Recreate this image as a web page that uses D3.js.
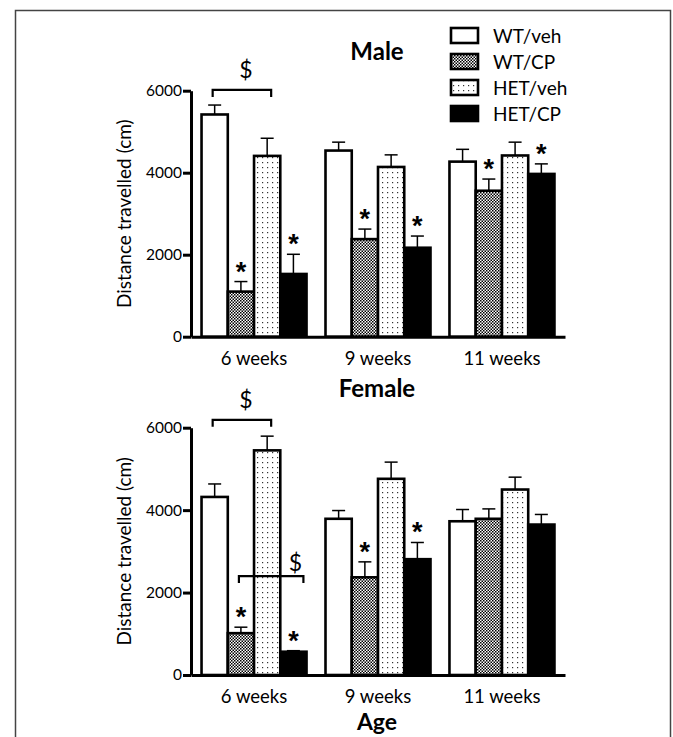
<!DOCTYPE html>
<html>
<head>
<meta charset="utf-8">
<script src="https://cdn.jsdelivr.net/npm/d3@7"></script>
<style>
body{margin:0;background:#fff}
text{font-family:Lato,"Open Sans",sans-serif;fill:#000}
</style>
</head>
<body>
<svg id="fig" width="673" height="737"></svg>
<script>
const groups = ["6 weeks", "9 weeks", "11 weeks"];
const series = ["WT/veh", "WT/CP", "HET/veh", "HET/CP"];
const yTicks = [0, 2000, 4000, 6000];

// rows follow series, columns follow groups
const maleMean = [[5420, 4540, 4270], [1100, 2380, 3560], [4410, 4140, 4420], [1530, 2170, 3970]];
const maleSem = [[230, 205, 300], [245, 245, 285], [430, 295, 325], [480, 285, 245]];
const femaleMean = [[4320, 3790, 3730], [1015, 2370, 3790], [5450, 4760, 4500], [565, 2810, 3650]];
const femaleSem = [[315, 200, 285], [145, 375, 240], [345, 405, 300], [25, 405, 245]];

// [series, group] pairs that carry an asterisk
const maleStars = [[1, 0], [3, 0], [1, 1], [3, 1], [1, 2], [3, 2]];
const femaleStars = [[1, 0], [3, 0], [1, 1], [3, 1]];

// "$" brackets: group, from series, to series, height (cm)
const maleBrackets = [{group: 0, from: 0, to: 2, level: 6020}];
const femaleBrackets = [{group: 0, from: 0, to: 2, level: 6190}, {group: 0, from: 1, to: 3, level: 2400}];

const svg = d3.select("#fig");
const defs = svg.append("defs");

// checker fill for WT/CP
var chk = defs.append("pattern").attr("id", "checker")
    .attr("width", 3).attr("height", 3).attr("patternUnits", "userSpaceOnUse");
chk.append("rect").attr("width", 3).attr("height", 3).attr("fill", "#fff");
chk.append("rect").attr("width", 1.5).attr("height", 1.5).attr("fill", "#000");
chk.append("rect").attr("x", 1.5).attr("y", 1.5).attr("width", 1.5).attr("height", 1.5).attr("fill", "#000");

// sparse dots for HET/veh
var dots = defs.append("pattern").attr("id", "dots")
    .attr("width", 5).attr("height", 5).attr("patternUnits", "userSpaceOnUse");
dots.append("rect").attr("width", 5).attr("height", 5).attr("fill", "#fff");
dots.append("rect").attr("x", 2).attr("y", 2).attr("width", 1.2).attr("height", 1.2).attr("fill", "#333");

const fills = ["#fff", "url(#checker)", "url(#dots)", "#000"];

// frame round the figure
svg.append("rect").attr("x", 15.5).attr("y", 10.5).attr("width", 655).attr("height", 760)
    .attr("fill", "none").attr("stroke", "#444").attr("stroke-width", 1.5);

const x0 = d3.scaleBand().domain(groups).range([191, 565]).paddingInner(0.153).paddingOuter(0.085);
const x1 = d3.scaleBand().domain(series).range([0, x0.bandwidth()]);
var barX = function(s, gi){ return x0(groups[gi]) + x1(series[s]); };

var drawPanel = function(opts){
    var y = d3.scaleLinear().domain([0, 6000]).range([opts.bottom, opts.top]);
    var g = svg.append("g");

    // bars + error bars
    opts.mean.forEach(function(row, s){
        row.forEach(function(v, gi){
            var bx = barX(s, gi), cx = bx + x1.bandwidth() / 2;
            var top = y(v), etop = y(v + opts.sem[s][gi]);
            g.append("line").attr("x1", cx).attr("x2", cx).attr("y1", top).attr("y2", etop)
                .attr("stroke", "#000").attr("stroke-width", 1.5);
            g.append("line").attr("x1", cx - 6.5).attr("x2", cx + 6.5).attr("y1", etop).attr("y2", etop)
                .attr("stroke", "#000").attr("stroke-width", 1.5);
            g.append("rect").attr("x", bx).attr("y", top)
                .attr("width", x1.bandwidth()).attr("height", y(0) - top)
                .attr("fill", fills[s]).attr("stroke", "#000").attr("stroke-width", 2.6);
        });
    });

    opts.stars.forEach(function(p){
        var s = p[0], gi = p[1];
        var cx = barX(s, gi) + x1.bandwidth() / 2;
        var etop = y(opts.mean[s][gi] + opts.sem[s][gi]);
        g.append("text").attr("x", cx).attr("y", etop - 16 + 15)
            .attr("text-anchor", "middle").attr("font-size", 27).attr("font-weight", "bold")
            .style("font-family", "'Liberation Sans', Arial, sans-serif")
            .text("*");
    });

    opts.brackets.forEach(function(b){
        var xa = barX(b.from, b.group) + x1.bandwidth() / 2 - 2;
        var xb = barX(b.to, b.group) + x1.bandwidth() / 2 + (b.to == 2 ? 4 : 10);
        var by = y(b.level);
        g.append("path").attr("d", "M" + xa + "," + (by + 7) + "V" + by + "H" + xb + "V" + (by + 7))
            .attr("fill", "none").attr("stroke", "#000").attr("stroke-width", 2.2);
        g.append("text").attr("x", b.to == 2 ? (xa + xb) / 2 + 4 : xb - 8).attr("y", by - (b.to == 2 ? 12 : 5))
            .attr("text-anchor", "middle").attr("font-size", 23).text("$");
    });

    // y axis
    var ya = g.append("g").attr("transform", "translate(191,0)")
        .call(d3.axisLeft(y).tickValues(yTicks).tickSize(8).tickSizeOuter(0).tickPadding(1).tickFormat(d3.format("d")));
    ya.select(".domain").attr("stroke-width", 3);
    ya.selectAll(".tick line").attr("stroke-width", 3);
    ya.selectAll(".tick text").attr("font-size", 15.5).attr("font-family", "Lato");

    // x axis
    var xa = g.append("g").attr("transform", "translate(0," + opts.bottom + ")")
        .call(d3.axisBottom(x0).tickSize(0).tickSizeOuter(0).tickPadding(15));
    xa.select(".domain").attr("stroke-width", 3);
    xa.selectAll(".tick text").attr("font-size", 18.5).attr("font-family", "Lato");

    g.append("text").attr("transform", "translate(131," + (opts.top + opts.bottom) / 2 + ") rotate(-90)")
        .attr("text-anchor", "middle").attr("font-size", 19).text("Distance travelled (cm)");

    g.append("text").attr("x", 377).attr("y", opts.titleY).attr("text-anchor", "middle")
        .attr("font-size", 24).attr("font-weight", "bold").text(opts.title);
};

drawPanel({mean: maleMean, sem: maleSem, stars: maleStars, brackets: maleBrackets,
    top: 90.7, bottom: 336.7, title: "Male", titleY: 60});
drawPanel({mean: femaleMean, sem: femaleSem, stars: femaleStars, brackets: femaleBrackets,
    top: 427.7, bottom: 675, title: "Female", titleY: 397});

svg.append("text").attr("x", 377).attr("y", 730).attr("text-anchor", "middle")
    .attr("font-size", 23).attr("font-weight", "bold").text("Age");

// legend
var leg = svg.append("g").attr("transform", "translate(451,28)");
series.forEach(function(s, i){
    leg.append("rect").attr("x", 0).attr("y", i * 26).attr("width", 27).attr("height", 15)
        .attr("fill", fills[i]).attr("stroke", "#000").attr("stroke-width", 2.6);
    leg.append("text").attr("x", 42).attr("y", i * 26 + 14.5).attr("font-size", 19).text(s);
});
</script>
</body>
</html>
